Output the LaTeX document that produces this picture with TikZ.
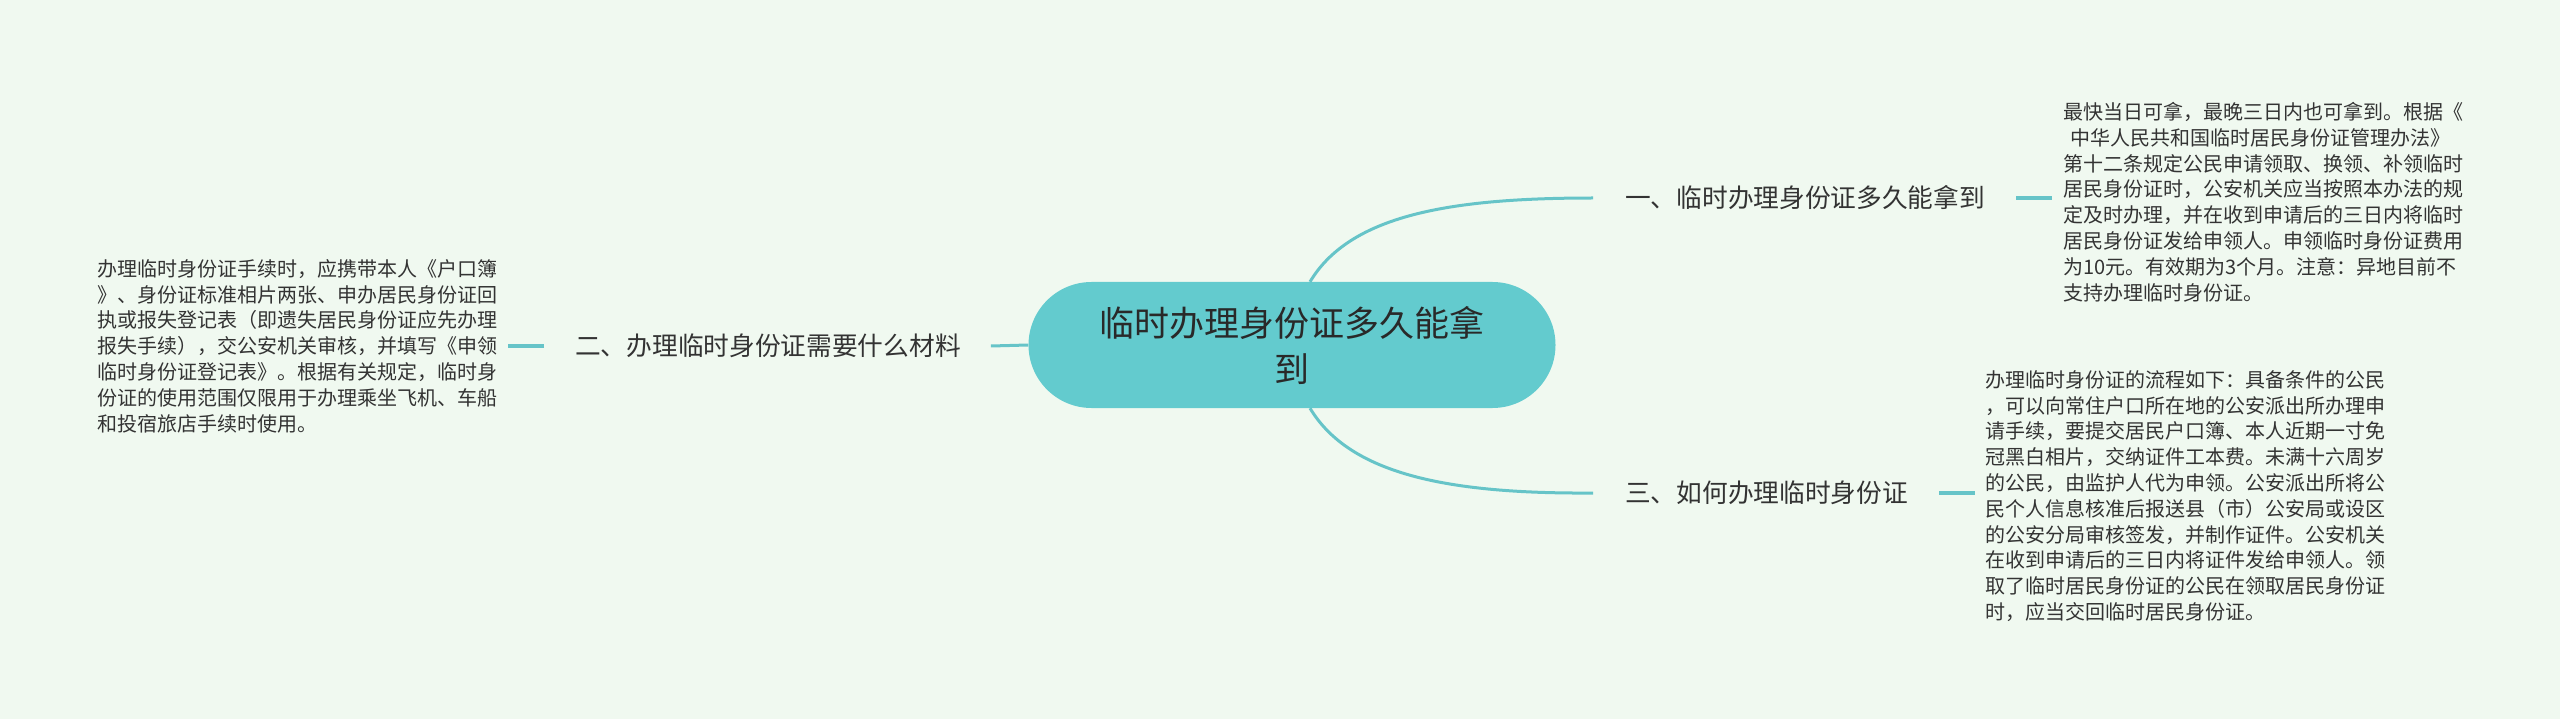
\documentclass[tikz,border=0pt]{standalone}
\usepackage{fontspec}
\setmainfont{Noto Sans CJK SC}
\definecolor{bgc}{RGB}{240,249,240}
\definecolor{nodec}{RGB}{99,203,206}
\definecolor{linec}{RGB}{102,196,200}
\definecolor{txtc}{RGB}{51,51,51}
\tikzset{
  centerbox/.style={fill=nodec, rounded corners=63pt, minimum width=527pt, minimum height=126pt, inner sep=0pt, align=center, text=txtc!80!black, font=\fontsize{35}{46}\selectfont},
  branchlbl/.style={anchor=west, inner sep=0pt, text=txtc, font=\fontsize{25.7}{30}\selectfont},
  leaftxt/.style={anchor=west, inner sep=0pt, align=left, text=txtc, font=\fontsize{20}{25.8}\selectfont},
  curvelink/.style={draw=linec, line width=3pt},
  shortlink/.style={draw=linec, line width=4pt}
}
\begin{document}
\begin{tikzpicture}[x=1pt,y=-1pt]
\fill[bgc] (0,0) rectangle (2560,719);
\useasboundingbox (0,0) rectangle (2560,719);

\node[centerbox] (c) at (1292,345) {临时办理身份证多久能拿\\到};

\node[branchlbl] (b1) at (1625,198) {一、临时办理身份证多久能拿到};
\node[branchlbl] (b2) at (575,346) {二、办理临时身份证需要什么材料};
\node[branchlbl] (b3) at (1625,493) {三、如何办理临时身份证};

\node[leaftxt] (t1) at (2063,202) {最快当日可拿，最晚三日内也可拿到。根据《\\
\hspace*{7pt}中华人民共和国临时居民身份证管理办法》\\
第十二条规定公民申请领取、换领、补领临时\\
居民身份证时，公安机关应当按照本办法的规\\
定及时办理，并在收到申请后的三日内将临时\\
居民身份证发给申领人。申领临时身份证费用\\
为10元。有效期为3个月。注意：异地目前不\\
支持办理临时身份证。};

\node[leaftxt] (t2) at (97,346) {办理临时身份证手续时，应携带本人《户口簿\\
》、身份证标准相片两张、申办居民身份证回\\
执或报失登记表（即遗失居民身份证应先办理\\
报失手续），交公安机关审核，并填写《申领\\
临时身份证登记表》。根据有关规定，临时身\\
份证的使用范围仅限用于办理乘坐飞机、车船\\
和投宿旅店手续时使用。};

\node[leaftxt] (t3) at (1985,496) {办理临时身份证的流程如下：具备条件的公民\\
，可以向常住户口所在地的公安派出所办理申\\
请手续，要提交居民户口簿、本人近期一寸免\\
冠黑白相片，交纳证件工本费。未满十六周岁\\
的公民，由监护人代为申领。公安派出所将公\\
民个人信息核准后报送县（市）公安局或设区\\
的公安分局审核签发，并制作证件。公安机关\\
在收到申请后的三日内将证件发给申领人。领\\
取了临时居民身份证的公民在领取居民身份证\\
时，应当交回临时居民身份证。};

% connectors from centre
\draw[curvelink] ([xshift=18pt]c.north) .. controls (1350,215) and (1450,198) .. ([xshift=-32pt]b1.west);
\draw[curvelink] ([xshift=18pt]c.south) .. controls (1350,475) and (1450,494) .. ([xshift=-32pt]b3.west);
\draw[curvelink] (c.west) -- ([xshift=30pt]b2.east);

% short links to leaf texts
\draw[shortlink] ([xshift=31pt]b1.east) -- ([xshift=-11pt]t1.west |- b1.east);
\draw[shortlink] ([xshift=-31pt]b2.west) -- ([xshift=11pt]t2.east |- b2.west);
\draw[shortlink] ([xshift=31pt]b3.east) -- ([xshift=-10pt]t3.west |- b3.east);
\end{tikzpicture}
\end{document}
